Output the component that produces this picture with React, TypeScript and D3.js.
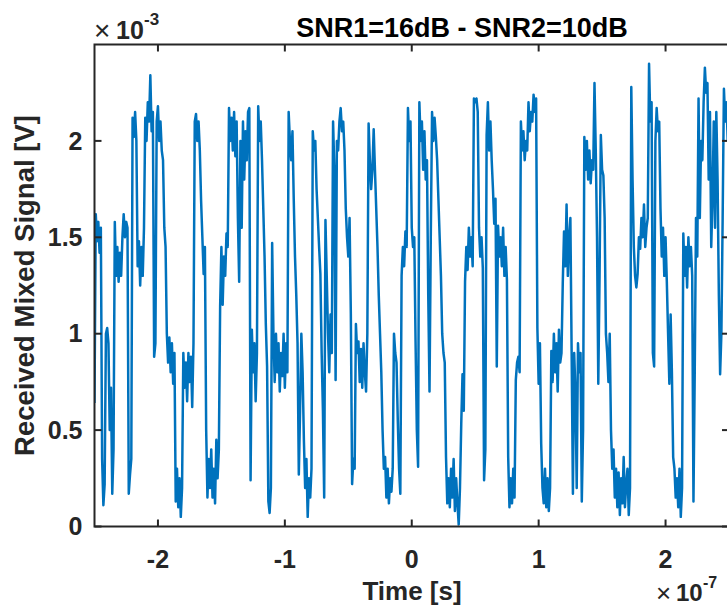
import React from "react";
import * as d3 from "d3";

const width = 727;
const height = 607;
const margin = { top: 44.5, right: -2, bottom: 80.5, left: 94.5 };
const innerWidth = width - margin.left - margin.right;
const innerHeight = height - margin.top - margin.bottom;

// ticks (time in 1e-7 s, voltage in 1e-3 V)
const xTicks = [-2, -1, 0, 1, 2];
const yTicks = [0, 0.5, 1, 1.5, 2];

// sample clock, units of 1e-7 s
const tStart = -2.5;
const tStep = 0.01;

// received mixed signal, units of 1e-3 V
const signal = [
	0.64, 1.62, 1.48, 1.58, 1.42, 1.55, 0.35, 0.11, 0.22, 1.0,
	1.03, 0.95, 0.5, 0.72, 0.17, 0.4, 1.58, 1.3, 1.45, 1.27,
	1.42, 1.3, 1.5, 1.62, 1.5, 1.58, 1.55, 0.17, 0.27, 0.35,
	2.12, 2.02, 2.15, 2.0, 1.35, 1.48, 1.25, 1.45, 1.3, 1.55,
	2.12, 2.0, 2.2, 2.1, 2.34, 2.05, 2.15, 0.88, 0.95, 2.1,
	2.18, 2.0, 2.1, 1.95, 1.9, 1.55, 1.45, 1.0, 0.85, 0.98,
	0.8, 0.95, 0.74, 0.9, 0.13, 0.3, 0.1, 0.25, 0.05, 0.2,
	0.9, 0.72, 0.85, 0.65, 0.9, 0.75, 0.88, 0.62, 0.95, 2.1,
	2.14, 2.0, 2.1, 1.95, 1.69, 1.5, 1.31, 1.45, 0.5, 0.15,
	0.35, 0.2, 0.4, 0.15, 0.3, 0.12, 0.45, 0.25, 0.4, 1.14,
	1.45, 1.15, 1.4, 1.3, 1.52, 1.45, 2.17, 2.0, 2.12, 1.95,
	2.15, 1.92, 2.1, 1.6, 1.27, 2.0, 1.55, 2.1, 1.8, 2.05,
	1.9, 2.15, 2.17, 0.24, 1.02, 0.8, 0.95, 0.65, 0.9, 2.18,
	2.0, 2.1, 1.9, 1.65, 1.4, 1.05, 0.83, 0.13, 0.07, 0.2,
	1.47, 1.0, 0.75, 1.0, 0.8, 0.95, 0.7, 0.9, 0.78, 1.0,
	0.72, 0.95, 0.8, 2.15, 2.0, 1.9, 2.05, 1.7, 1.4, 1.2,
	0.95, 0.27, 0.6, 1.0, 0.8, 0.45, 0.2, 0.35, 0.05, 0.25,
	0.15, 0.3, 2.05, 1.95, 2.0, 1.75, 1.6, 1.45, 1.31, 0.9,
	0.6, 0.15, 1.59, 1.3, 1.0, 0.8, 1.1, 0.9, 2.1, 1.85,
	0.76, 2.0, 1.95, 2.1, 2.17, 2.05, 2.1, 1.95, 1.65, 1.5,
	1.4, 1.6, 1.1, 0.22, 0.35, 0.3, 1.05, 0.9, 0.96, 0.75,
	0.92, 0.72, 0.95, 0.8, 0.7, 1.0, 2.09, 1.9, 1.75, 1.85,
	2.06, 1.85, 1.65, 1.45, 1.2, 1.0, 0.8, 0.5, 0.3, 0.36,
	0.15, 0.3, 0.12, 0.25, 0.18, 0.3, 1.0, 0.9, 0.85, 0.55,
	0.3, 0.17, 1.3, 1.45, 1.35, 1.53, 1.45, 2.17, 2.0, 2.1,
	1.55, 1.45, 1.5, 0.96, 0.5, 0.31, 2.2, 2.0, 2.1, 1.85,
	2.05, 1.8, 1.9, 1.2, 0.7, 1.5, 2.15, 2.0, 2.12, 2.02,
	1.9, 1.7, 1.5, 1.3, 1.0, 0.9, 0.85, 0.36, 0.12, 0.25,
	0.1, 0.3, 0.15, 0.35, 0.08, 0.25, 0.12, 0.01, 0.2, 0.53,
	0.79, 0.6, 1.27, 1.45, 1.33, 1.55, 1.4, 1.5, 1.35, 2.22,
	2.2, 2.22, 2.15, 1.55, 1.4, 1.5, 1.34, 0.24, 0.4, 2.03,
	2.2, 1.95, 2.1, 1.9, 1.75, 1.57, 1.7, 0.83, 1.56, 1.4,
	1.5, 1.35, 1.55, 1.3, 1.45, 1.28, 0.36, 0.1, 0.25, 0.12,
	0.3, 0.15, 0.76, 0.85, 0.88, 0.8, 2.1, 1.95, 2.05, 1.9,
	2.0, 1.95, 2.2, 2.05, 2.15, 2.1, 2.24, 2.15, 2.22, 1.03,
	0.74, 0.95, 0.43, 0.2, 0.12, 0.3, 0.1, 0.25, 0.08, 0.2,
	0.91, 0.75, 1.0, 0.8, 0.95, 0.7, 1.02, 0.85, 0.9, 1.26,
	1.53, 1.35, 1.67, 1.3, 1.5, 1.6, 0.9, 0.17, 0.9, 0.7,
	0.2, 0.95, 0.8, 0.9, 0.13, 0.5, 2.02, 1.85, 2.0, 1.8,
	1.95, 1.78, 1.9, 1.85, 2.3, 1.95, 1.5, 0.74, 1.3, 2.03,
	1.85, 1.82, 1.6, 1.0, 0.9, 0.75, 1.0, 0.5, 0.3, 0.4,
	0.15, 0.3, 0.1, 0.28, 0.06, 0.25, 0.12, 0.36, 0.1, 0.22,
	0.3, 0.06, 0.2, 2.28, 1.8, 1.45, 1.3, 1.24, 1.31, 1.5,
	1.44, 1.6, 1.5, 1.67, 1.45, 1.55, 1.6, 2.4, 2.1, 2.2,
	0.9, 0.83, 2.0, 2.17, 2.05, 2.1, 1.65, 1.4, 1.55, 1.3,
	1.5, 1.27, 1.0, 0.74, 1.1, 0.8, 0.36, 0.3, 0.15, 0.25,
	0.1, 0.3, 0.05, 0.2, 1.52, 1.3, 1.45, 1.24, 1.5, 1.35,
	1.45, 1.3, 0.13, 0.8, 1.6, 1.4, 2.22, 1.6, 2.0, 1.9,
	2.2, 2.38, 2.25, 2.3, 1.8, 2.15, 1.45, 1.7, 2.1, 1.55,
	2.15, 1.8, 1.2, 0.79, 1.0, 1.6, 2.27, 2.1, 2.2, 2.0,
];

const axisColor = "#262626";
const lineColor = "#0072BD";
const font = "'Liberation Sans', Arial, Helvetica, sans-serif";

const App = () => {
	const xScale = d3.scaleLinear().domain([-2.5, 2.5]).range([0, innerWidth]);
	const yScale = d3.scaleLinear().domain([0, 2.5]).range([innerHeight, 0]);

	const points: [number, number][] = signal.map((v, i) => [tStart + i * tStep, v]);
	const line = d3
		.line<[number, number]>()
		.x((d) => xScale(d[0]))
		.y((d) => yScale(d[1]));

	const tickLen = 7;

	return (
		<svg
			width={width}
			height={height}
			style={{ position: "absolute", left: 0, top: 0, background: "#fff" }}
			fontFamily={font}
		>
			<defs>
				<clipPath id="plot-clip">
					<rect x={0} y={0} width={innerWidth} height={innerHeight} />
				</clipPath>
			</defs>
			<g transform={`translate(${margin.left}, ${margin.top})`}>
				<path
					d={line(points) || ""}
					fill="none"
					stroke={lineColor}
					strokeWidth={2.5}
					strokeLinejoin="round"
					clipPath="url(#plot-clip)"
				/>

				{/* box */}
				<rect
					x={0}
					y={0}
					width={innerWidth}
					height={innerHeight}
					fill="none"
					stroke={axisColor}
					strokeWidth={2}
				/>

				{/* x ticks */}
				{xTicks.map((t) => (
					<g key={"x" + t} transform={`translate(${xScale(t)}, 0)`}>
						<line y1={innerHeight} y2={innerHeight - tickLen} stroke={axisColor} strokeWidth={2} />
						<line y1={0} y2={tickLen} stroke={axisColor} strokeWidth={2} />
						<text
							y={innerHeight + 41}
							textAnchor="middle"
							fontSize={25}
							fontWeight="bold"
							fill={axisColor}
						>
							{t}
						</text>
					</g>
				))}

				{/* y ticks */}
				{yTicks.map((t) => (
					<g key={"y" + t} transform={`translate(0, ${yScale(t)})`}>
						<line x1={0} x2={tickLen} stroke={axisColor} strokeWidth={2} />
						<line x1={innerWidth} x2={innerWidth - tickLen} stroke={axisColor} strokeWidth={2} />
						<text
							x={-12}
							dy="0.35em"
							textAnchor="end"
							fontSize={25}
							fontWeight="bold"
							fill={axisColor}
						>
							{t}
						</text>
					</g>
				))}
			</g>

			{/* title */}
			<text x={462} y={37} textAnchor="middle" fontSize={27} fontWeight="bold" fill="#000">
				SNR1=16dB - SNR2=10dB
			</text>

			{/* axis labels */}
			<text x={412} y={600} textAnchor="middle" fontSize={26} fontWeight="bold" fill={axisColor}>
				Time [s]
			</text>
			<text
				transform={`translate(34, ${margin.top + innerHeight / 2}) rotate(-90)`}
				textAnchor="middle"
				fontSize={27.5}
				fontWeight="bold"
				fill={axisColor}
			>
				Received Mixed Signal [V]
			</text>

			{/* exponent labels */}
			<g fill={axisColor}>
				<text x={94} y={40} fontSize={28}>×</text>
				<text x={116} y={38.5} fontSize={25} fontWeight="bold">10</text>
				<text x={144} y={25} fontSize={17} fontWeight="bold">-3</text>
			</g>
			<g fill={axisColor}>
				<text x={656} y={602} fontSize={26}>×</text>
				<text x={676} y={601} fontSize={24} fontWeight="bold">10</text>
				<text x={703} y={588} fontSize={16} fontWeight="bold">-7</text>
			</g>
		</svg>
	);
};

export default App;
